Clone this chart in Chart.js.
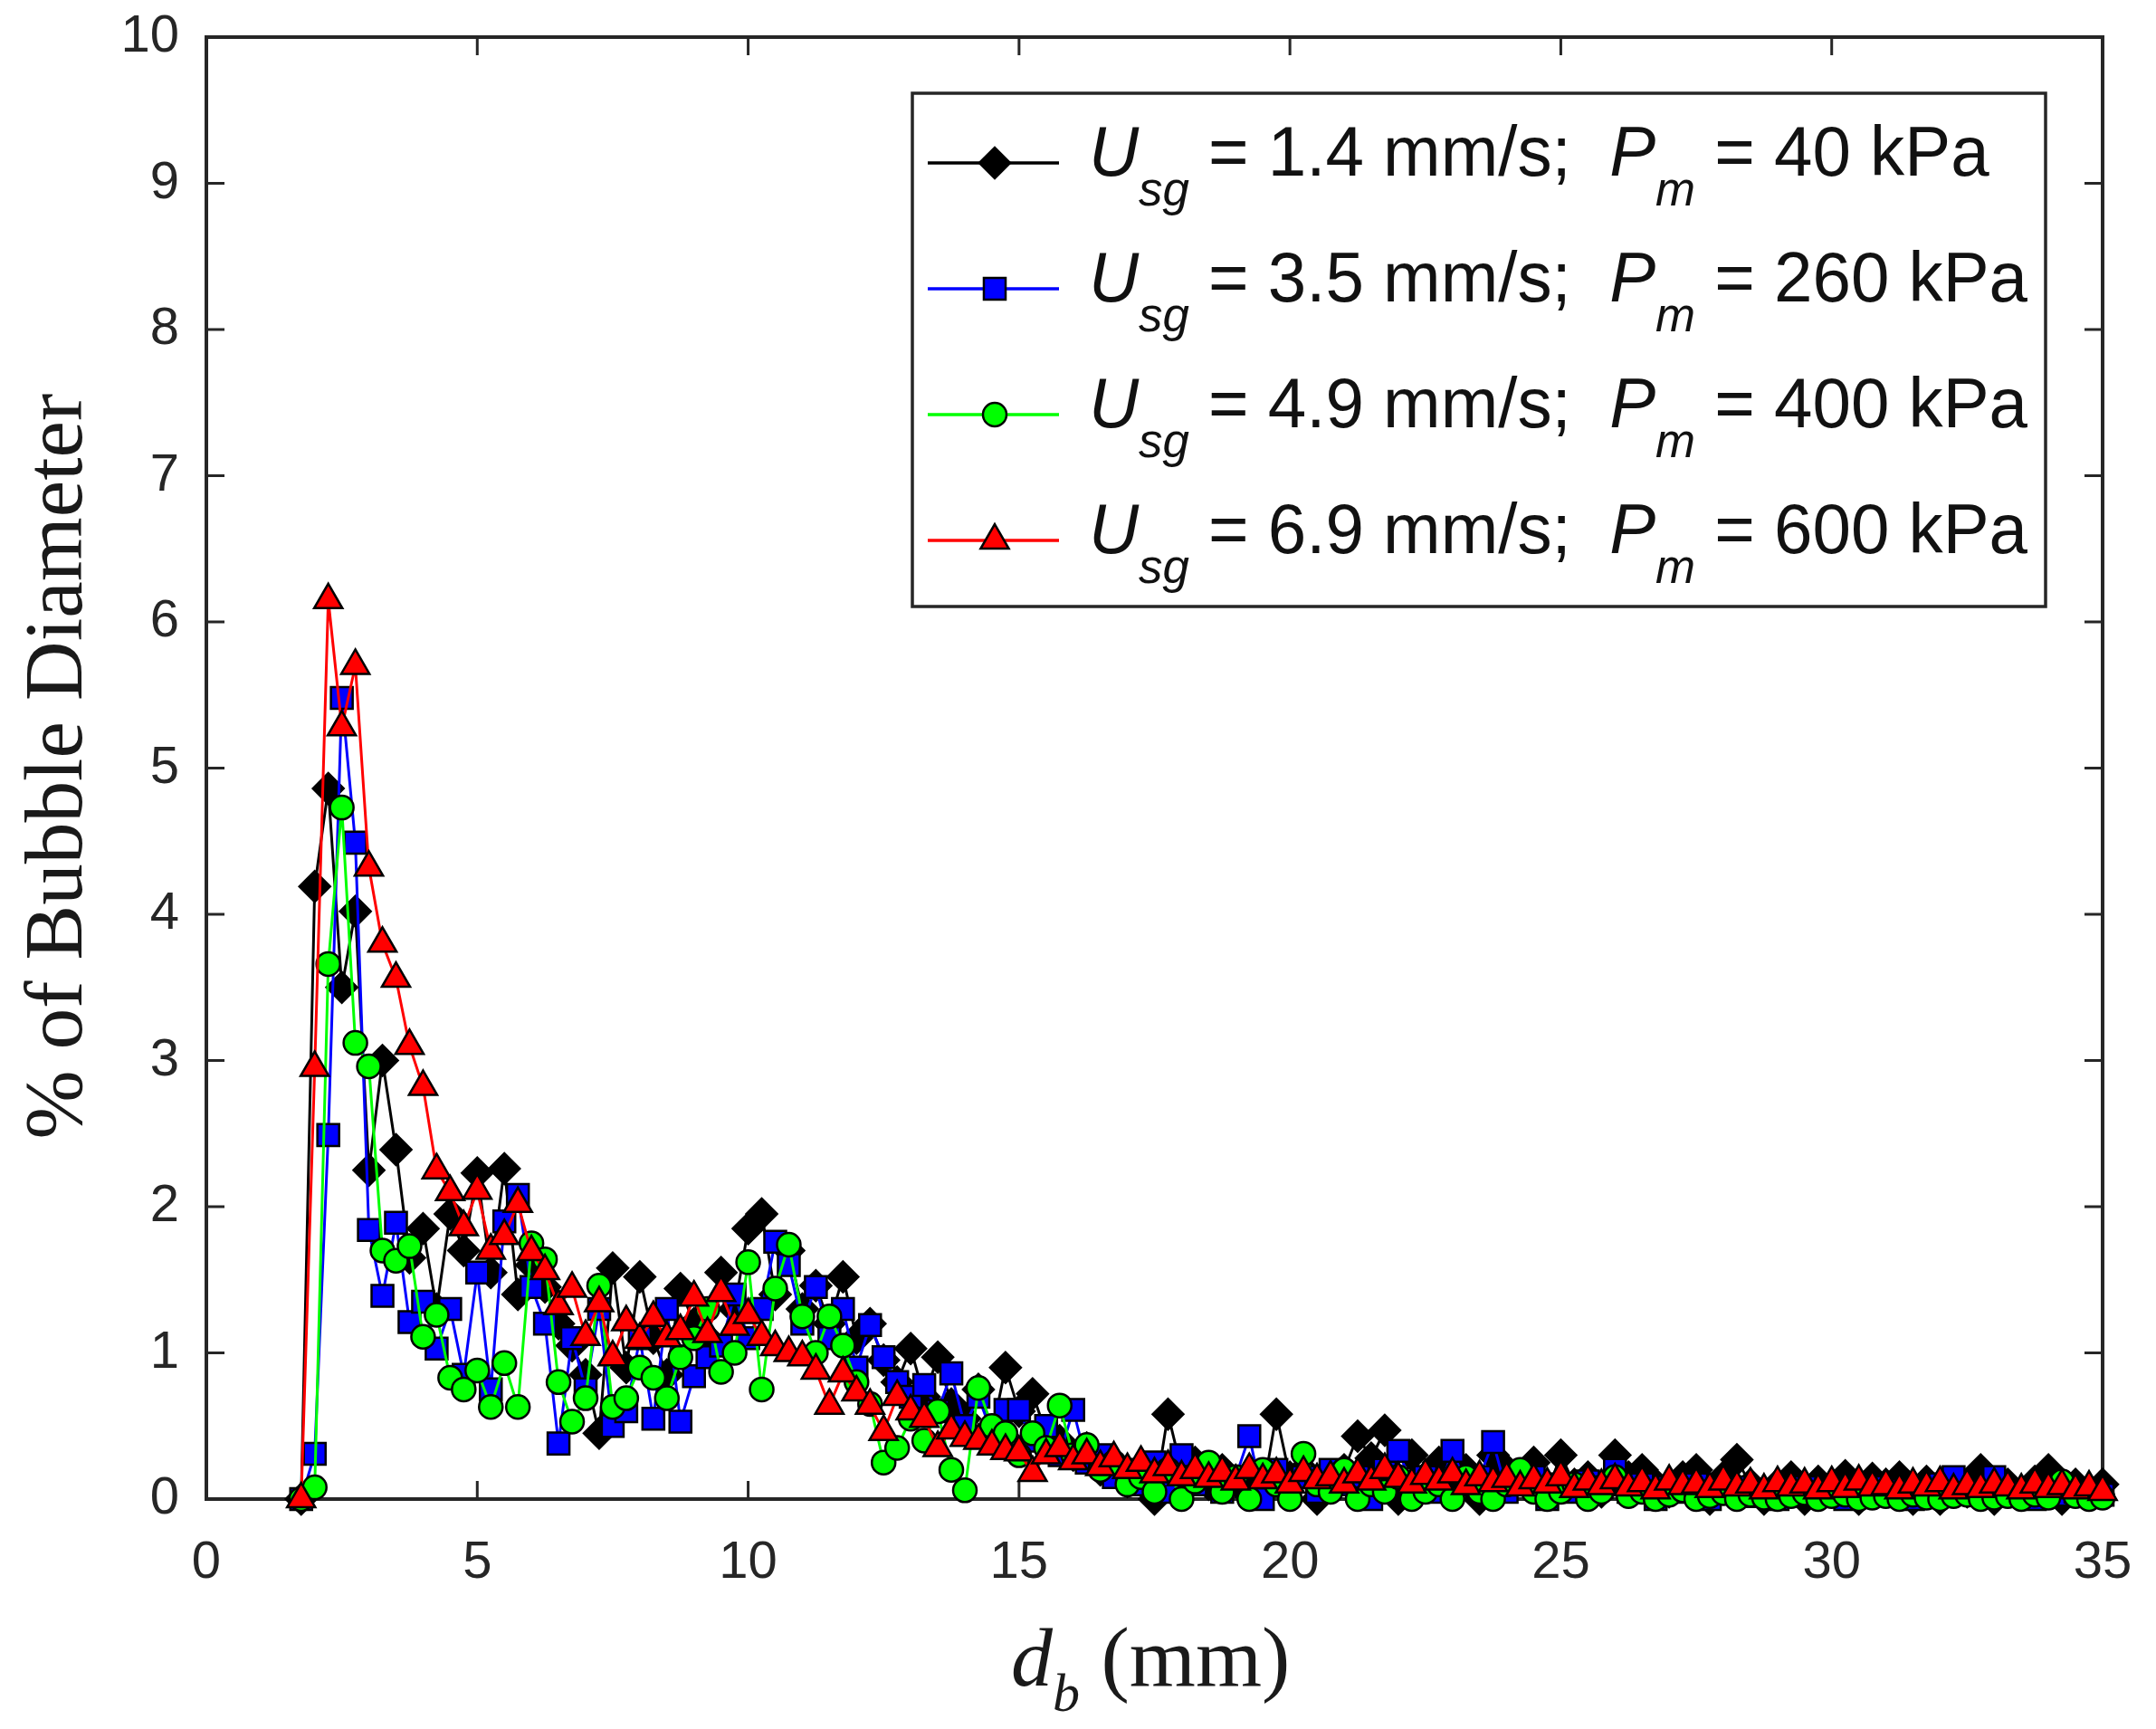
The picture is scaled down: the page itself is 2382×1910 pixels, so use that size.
<!DOCTYPE html>
<html><head><meta charset="utf-8">
<script src="https://cdn.jsdelivr.net/npm/chart.js@4"></script>
<style>html,body{margin:0;padding:0;background:#fff;}canvas{display:block;}</style>
</head><body>
<canvas id="c" width="2382" height="1910" style="width:2382px;height:1910px"></canvas>
<script>
// ---- data ----
const diameters = [1.75,2,2.25,2.5,2.75,3,3.25,3.5,3.75,4,4.25,4.5,4.75,5,5.25,5.5,5.75,6,6.25,6.5,6.75,7,7.25,7.5,7.75,8,8.25,8.5,8.75,9,9.25,9.5,9.75,10,10.25,10.5,10.75,11,11.25,11.5,11.75,12,12.25,12.5,12.75,13,13.25,13.5,13.75,14,14.25,14.5,14.75,15,15.25,15.5,15.75,16,16.25,16.5,16.75,17,17.25,17.5,17.75,18,18.25,18.5,18.75,19,19.25,19.5,19.75,20,20.25,20.5,20.75,21,21.25,21.5,21.75,22,22.25,22.5,22.75,23,23.25,23.5,23.75,24,24.25,24.5,24.75,25,25.25,25.5,25.75,26,26.25,26.5,26.75,27,27.25,27.5,27.75,28,28.25,28.5,28.75,29,29.25,29.5,29.75,30,30.25,30.5,30.75,31,31.25,31.5,31.75,32,32.25,32.5,32.75,33,33.25,33.5,33.75,34,34.25,34.5,34.75,35];

const usgValues = ['1.4','3.5','4.9','6.9'];
const pmValues = ['40','260','400','600'];

const pctUsg14 = [0,4.19,4.86,3.5,4.02,2.25,3.0,2.39,
 1.65,1.85,1.3,1.95,1.7,2.23,1.55,2.26,
 1.4,1.6,1.45,1.2,1.05,0.85,0.45,1.58,
 0.9,1.52,1.1,0.85,1.44,1.2,1.1,1.55,
 1.3,1.85,1.95,1.4,1.7,1.3,1.46,1.2,
 1.52,1.1,1.2,0.95,0.8,1.03,0.7,0.97,
 0.65,0.55,0.75,0.45,0.9,0.6,0.72,0.45,
 0.4,0.3,0.35,0.2,0.25,0.12,0.2,0,
 0.58,0.2,0.25,0.1,0.2,0.12,0.15,0.05,
 0.58,0.15,0.2,0,0.12,0.2,0.43,0.28,
 0.47,0,0.3,0.15,0.25,0.1,0.2,0,
 0.3,0.2,0.15,0.25,0.05,0.3,0.1,0.15,
 0.05,0.3,0.15,0.2,0.1,0.05,0.15,0.2,
 0,0.15,0.27,0.1,0,0.1,0.15,0,
 0.12,0.05,0.16,0,0.14,0.1,0.15,0,
 0.12,0,0.1,0.05,0.2,0,0.1,0.05,
 0.12,0.2,0,0.1,0.05,0.1];

const pctUsg35 = [0,0.31,2.49,5.48,4.49,1.84,1.39,1.89,
 1.21,1.35,1.03,1.3,0.85,1.55,0.75,1.9,
 2.08,1.45,1.2,0.38,1.1,0.75,1.3,0.5,
 0.6,1.1,0.55,1.3,0.53,0.84,0.97,1.05,
 1.4,1.1,1.3,1.76,1.6,1.2,1.45,1.1,
 1.3,0.9,1.19,0.97,0.8,0.7,0.78,0.6,
 0.86,0.5,0.7,0.45,0.61,0.61,0.4,0.5,
 0.3,0.61,0.25,0.3,0.15,0.2,0.1,0.25,
 0.05,0.3,0.1,0.2,0.05,0.15,0.43,0,
 0.2,0.1,0.15,0.05,0.2,0.1,0.15,0,
 0.2,0.33,0.1,0.15,0.05,0.33,0.1,0.15,
 0.39,0.05,0.1,0.15,0,0.1,0.05,0.12,
 0.08,0.2,0.05,0.1,0,0.08,0.05,0.1,
 0,0.05,0.08,0.02,0.06,0,0.05,0.08,
 0.02,0.06,0,0.05,0.08,0.03,0.06,0,
 0.05,0.1,0.15,0.04,0.06,0.15,0.03,0.05,
 0,0.06,0.03,0.05,0.02,0.03];

const pctUsg49 = [0,0.08,3.66,4.73,3.12,2.96,1.7,1.63,
 1.73,1.11,1.26,0.83,0.75,0.88,0.63,0.93,
 0.63,1.75,1.64,0.8,0.53,0.69,1.46,0.63,
 0.69,0.9,0.83,0.69,0.97,1.1,1.3,0.87,
 1.0,1.62,0.75,1.44,1.74,1.25,1.0,1.25,
 1.05,0.8,0.65,0.25,0.35,0.55,0.4,0.6,
 0.2,0.06,0.76,0.5,0.45,0.3,0.45,0.35,
 0.64,0.3,0.37,0.2,0.25,0.1,0.15,0.05,
 0.2,0,0.12,0.25,0.05,0.15,0,0.2,
 0.1,0,0.31,0.1,0.05,0.2,0,0.1,
 0.05,0.15,0,0.05,0.1,0,0.15,0.05,
 0,0.1,0.2,0.05,0,0.05,0.1,0,
 0.05,0.15,0.02,0.05,0,0.03,0.06,0,
 0.02,0.04,0,0.03,0.01,0,0.02,0.04,
 0,0.02,0.03,0,0.01,0.02,0,0.03,
 0.01,0,0.02,0.03,0,0.01,0.02,0,
 0.03,0.01,0.12,0.02,0,0.01];

const pctUsg69 = [0,2.95,6.15,5.28,5.7,4.32,3.8,3.56,
 3.1,2.82,2.25,2.1,1.86,2.11,1.7,1.8,
 2.02,1.69,1.56,1.32,1.44,1.11,1.34,0.97,
 1.21,1.09,1.24,1.1,1.15,1.38,1.13,1.41,
 1.18,1.26,1.11,1.04,1.0,0.97,0.88,0.64,
 0.86,0.73,0.64,0.46,0.7,0.6,0.55,0.35,
 0.47,0.42,0.4,0.36,0.33,0.32,0.18,0.3,
 0.35,0.26,0.3,0.22,0.28,0.2,0.25,0.17,
 0.22,0.15,0.2,0.14,0.18,0.12,0.2,0.13,
 0.17,0.1,0.18,0.13,0.15,0.1,0.17,0.12,
 0.2,0.14,0.1,0.16,0.12,0.17,0.09,0.15,
 0.11,0.14,0.08,0.13,0.1,0.15,0.07,0.12,
 0.09,0.13,0.08,0.11,0.06,0.12,0.09,0.1,
 0.07,0.12,0.08,0.1,0.06,0.11,0.08,0.1,
 0.06,0.11,0.07,0.12,0.08,0.09,0.06,0.1,
 0.08,0.11,0.06,0.09,0.07,0.1,0.08,0.06,
 0.1,0.07,0.09,0.06,0.08,0.05];

const xTickValues = [0,5,10,15,20,25,30,35];
const yTickValues = [0,1,2,3,4,5,6,7,8,9,10];

// ---- styles ----
const seriesValues = [pctUsg14, pctUsg35, pctUsg49, pctUsg69];
const seriesStyle = [
  {line:'#000000', fill:'#000000', shape:'rectRot', r:17, order:4},
  {line:'#0000ff', fill:'#0000ff', shape:'rect', r:17, order:3},
  {line:'#00ff00', fill:'#00ff00', shape:'circle', r:13, order:2},
  {line:'#ff0000', fill:'#ff0000', shape:'triangle', r:18, order:1}
];

const datasets = seriesValues.map((vals, k) => ({
  label: 'Usg = ' + usgValues[k] + ' mm/s; Pm = ' + pmValues[k] + ' kPa',
  data: diameters.map((d, i) => ({x: d, y: vals[i]})),
  showLine: true,
  borderColor: seriesStyle[k].line,
  borderWidth: 3,
  backgroundColor: seriesStyle[k].fill,
  pointStyle: seriesStyle[k].shape,
  pointRadius: seriesStyle[k].r,
  pointBackgroundColor: seriesStyle[k].fill,
  pointBorderColor: '#000000',
  pointBorderWidth: 2.5,
  tension: 0,
  clip: false,
  order: seriesStyle[k].order
}));

const AXIS_COLOR = '#262626';

function richWidth(ctx, parts){
  let w = 0;
  parts.forEach(p => { ctx.font = p.font; w += ctx.measureText(p.text).width; });
  return w;
}
function drawRich(ctx, parts, x, baseline, sx){
  ctx.save();
  ctx.translate(x, baseline);
  ctx.scale(sx, 1);
  ctx.textBaseline = 'alphabetic';
  ctx.textAlign = 'left';
  let cx = 0;
  parts.forEach(p => {
    ctx.font = p.font;
    ctx.fillText(p.text, cx, p.dy || 0);
    cx += ctx.measureText(p.text).width;
  });
  ctx.restore();
}

const decorPlugin = {
  id: 'decor',
  beforeDatasetsDraw(chart){
    const {ctx, chartArea: a, scales: {x, y}} = chart;
    ctx.save();
    ctx.strokeStyle = AXIS_COLOR;
    ctx.lineWidth = 4;
    ctx.strokeRect(a.left, a.top, a.right - a.left, a.bottom - a.top);
    const L = 20;
    ctx.lineWidth = 3;
    ctx.beginPath();
    x.ticks.forEach(t => {
      const px = x.getPixelForValue(t.value);
      ctx.moveTo(px, a.bottom); ctx.lineTo(px, a.bottom - L);
      ctx.moveTo(px, a.top); ctx.lineTo(px, a.top + L);
    });
    y.ticks.forEach(t => {
      const py = y.getPixelForValue(t.value);
      ctx.moveTo(a.left, py); ctx.lineTo(a.left + L, py);
      ctx.moveTo(a.right, py); ctx.lineTo(a.right - L, py);
    });
    ctx.stroke();
    ctx.restore();
  },
  afterDraw(chart){
    const ctx = chart.ctx;
    const a = chart.chartArea;
    ctx.save();
    ctx.fillStyle = '#1a1a1a';
    // y-axis title
    const yTitle = '% of Bubble Diameter';
    ctx.font = '90px "Liberation Serif"';
    const tw = ctx.measureText(yTitle).width;
    const cy = (a.top + a.bottom) / 2 - 2;
    ctx.save();
    ctx.translate(90, cy);
    ctx.rotate(-Math.PI / 2);
    ctx.scale(824 / tw, 1);
    ctx.textAlign = 'center';
    ctx.textBaseline = 'alphabetic';
    ctx.fillText(yTitle, 0, 0);
    ctx.restore();
    // x-axis title
    const xParts = [
      {text:'d', font:'italic 92px "Liberation Serif"'},
      {text:'b', font:'italic 60px "Liberation Serif"', dy:28},
      {text:' (mm)', font:'94px "Liberation Serif"'}
    ];
    drawRich(ctx, xParts, 1117, 1862, 1);

    // legend
    const box = {l:1008, t:103, r:2260, b:670};
    ctx.fillStyle = '#ffffff';
    ctx.fillRect(box.l, box.t, box.r - box.l, box.b - box.t);
    ctx.strokeStyle = AXIS_COLOR;
    ctx.lineWidth = 3.5;
    ctx.strokeRect(box.l, box.t, box.r - box.l, box.b - box.t);
    const rowY = [180, 319, 458, 597];
    const F = 78, FS = 54;
    const fam = '"Liberation Sans"';
    const rows = usgValues.map((u, k) => [
      {text:'U', font:'italic ' + F + 'px ' + fam},
      {text:'sg', font:'italic ' + FS + 'px ' + fam, dy:33},
      {text:' = ' + u + ' mm/s;  ', font:F + 'px ' + fam},
      {text:'P', font:'italic ' + F + 'px ' + fam},
      {text:'m', font:'italic ' + FS + 'px ' + fam, dy:33},
      {text:' = ' + pmValues[k] + ' kPa', font:F + 'px ' + fam}
    ]);
    const maxW = Math.max(...rows.map(r => richWidth(ctx, r)));
    const sx = (2240 - 1203) / maxW;
    rows.forEach((parts, k) => {
      const c = rowY[k];
      const st = seriesStyle[k];
      ctx.save();
      ctx.strokeStyle = st.line;
      ctx.lineWidth = 3.5;
      ctx.beginPath(); ctx.moveTo(1025, c); ctx.lineTo(1170, c); ctx.stroke();
      ctx.fillStyle = st.fill;
      ctx.strokeStyle = '#000000';
      ctx.lineWidth = 2.5;
      Chart.helpers.drawPoint(ctx, {pointStyle: st.shape, radius: st.r, rotation: 0, borderWidth: 2.5}, 1099, c);
      ctx.restore();
      ctx.fillStyle = '#111111';
      drawRich(ctx, parts, 1203, c + 14, sx);
    });
    ctx.restore();
  }
};

const tickFont = {family: '"Liberation Sans"', size: 58};

new Chart(document.getElementById('c'), {
  type: 'scatter',
  data: {datasets},
  options: {
    responsive: false,
    animation: false,
    devicePixelRatio: 1,
    layout: {padding: {left: 0, top: 41, right: 59, bottom: 0}},
    plugins: {legend: {display: false}, tooltip: {enabled: false}},
    scales: {
      x: {
        type: 'linear', min: 0, max: 35,
        afterBuildTicks: s => { s.ticks = xTickValues.map(v => ({value: v})); },
        grid: {display: false, drawTicks: false},
        border: {display: false},
        ticks: {font: tickFont, color: AXIS_COLOR, padding: 36, maxRotation: 0, autoSkip: false},
        afterFit: s => { s.height = 254; s.paddingLeft = 0; s.paddingRight = 0; }
      },
      y: {
        type: 'linear', min: 0, max: 10,
        afterBuildTicks: s => { s.ticks = yTickValues.map(v => ({value: v})); },
        grid: {display: false, drawTicks: false},
        border: {display: false},
        ticks: {font: tickFont, color: AXIS_COLOR, padding: 30, autoSkip: false},
        afterFit: s => { s.width = 228; s.paddingTop = 0; s.paddingBottom = 0; }
      }
    }
  },
  plugins: [decorPlugin]
});
</script>
</body></html>
